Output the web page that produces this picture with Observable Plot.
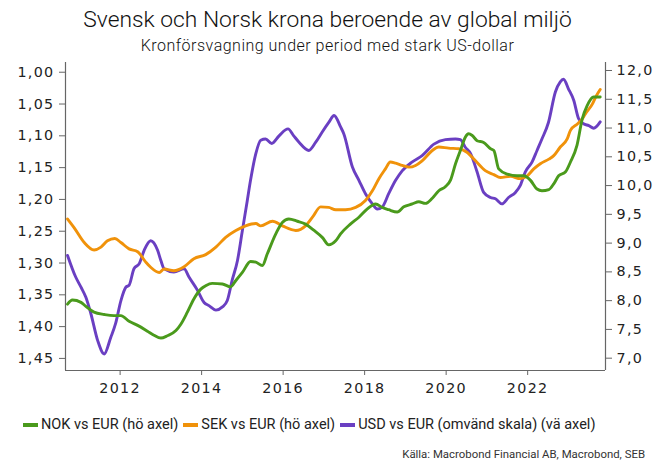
<!DOCTYPE html>
<html>
<head>
<meta charset="utf-8">
<script src="https://cdn.jsdelivr.net/npm/d3@7"></script>
<script src="https://cdn.jsdelivr.net/npm/@observablehq/plot@0.6"></script>
<style>
  html, body { margin: 0; padding: 0; background: #fff; }
  body { width: 655px; height: 461px; position: relative; overflow: hidden; font-family: "Roboto", "Liberation Sans", sans-serif; color: #222; }
  #title { position: absolute; top: 7px; left: 0; width: 655px; text-align: center; font-size: 22.8px; line-height: 26px; font-weight: 300; color: #111; }
  #subtitle { position: absolute; top: 37px; left: 0; width: 655px; text-align: center; font-size: 16px; line-height: 18px; letter-spacing: 0.5px; font-weight: 300; color: #111; }
  #chart { position: absolute; top: 50px; left: 0; }
  #legend { position: absolute; top: 416px; left: 23px; display: flex; align-items: center; font-size: 14.5px; white-space: nowrap; }
  #legend .item { display: flex; align-items: center; margin-right: 5px; }
  #legend .sw { display: inline-block; width: 15px; height: 4px; margin-right: 3px; }
  #caption { position: absolute; top: 447px; right: 10px; font-size: 11.4px; color: #333; }
</style>
</head>
<body>
<div id="title">Svensk och Norsk krona beroende av global miljö</div>
<div id="subtitle">Kronförsvagning under period med stark US-dollar</div>
<div id="chart"></div>
<div id="legend"></div>
<div id="caption">Källa: Macrobond Financial AB, Macrobond, SEB</div>
<script>
// Series: [decimal year, value]
const nok = [[2010.71,7.94],[2010.83,8.01],[2011.04,7.97],[2011.16,7.90],[2011.36,7.80],[2011.61,7.76],[2011.85,7.74],[2012.02,7.74],[2012.22,7.64],[2012.43,7.57],[2012.67,7.47],[2012.83,7.40],[2013.00,7.35],[2013.16,7.39],[2013.37,7.48],[2013.49,7.59],[2013.65,7.80],[2013.81,8.03],[2013.98,8.20],[2014.10,8.26],[2014.26,8.30],[2014.51,8.29],[2014.71,8.24],[2014.84,8.35],[2015.00,8.49],[2015.20,8.68],[2015.33,8.67],[2015.49,8.61],[2015.61,8.81],[2015.82,9.16],[2015.98,9.36],[2016.14,9.42],[2016.35,9.38],[2016.55,9.33],[2016.76,9.22],[2016.96,9.10],[2017.12,8.97],[2017.29,9.04],[2017.41,9.16],[2017.65,9.33],[2017.86,9.45],[2018.06,9.59],[2018.27,9.68],[2018.43,9.62],[2018.59,9.58],[2018.80,9.54],[2018.96,9.63],[2019.17,9.68],[2019.33,9.72],[2019.49,9.69],[2019.66,9.78],[2019.82,9.91],[2019.98,9.98],[2020.11,10.10],[2020.23,10.38],[2020.35,10.61],[2020.47,10.84],[2020.55,10.90],[2020.64,10.87],[2020.76,10.78],[2020.92,10.75],[2021.09,10.64],[2021.17,10.61],[2021.29,10.29],[2021.50,10.20],[2021.74,10.17],[2021.90,10.17],[2022.07,10.09],[2022.23,9.94],[2022.35,9.91],[2022.52,9.93],[2022.64,10.03],[2022.76,10.17],[2022.93,10.24],[2023.05,10.41],[2023.21,10.70],[2023.34,11.16],[2023.46,11.39],[2023.62,11.54],[2023.78,11.54]];
const sek = [[2010.71,9.42],[2010.87,9.27],[2011.12,9.01],[2011.36,8.88],[2011.53,8.93],[2011.69,9.04],[2011.87,9.08],[2012.02,9.01],[2012.22,8.90],[2012.43,8.85],[2012.63,8.67],[2012.75,8.58],[2012.96,8.49],[2013.08,8.55],[2013.32,8.52],[2013.57,8.59],[2013.81,8.73],[2014.10,8.80],[2014.35,8.93],[2014.59,9.10],[2014.84,9.22],[2015.08,9.30],[2015.33,9.34],[2015.45,9.30],[2015.74,9.38],[2015.98,9.30],[2016.31,9.22],[2016.55,9.30],[2016.72,9.45],[2016.92,9.63],[2017.12,9.62],[2017.29,9.58],[2017.53,9.58],[2017.78,9.62],[2018.02,9.74],[2018.19,9.91],[2018.35,10.12],[2018.51,10.29],[2018.63,10.41],[2018.76,10.39],[2018.92,10.35],[2019.09,10.32],[2019.25,10.35],[2019.41,10.43],[2019.66,10.61],[2019.82,10.67],[2020.06,10.65],[2020.31,10.64],[2020.51,10.58],[2020.72,10.43],[2020.96,10.26],[2021.17,10.19],[2021.33,10.14],[2021.58,10.16],[2021.82,10.12],[2021.99,10.17],[2022.15,10.29],[2022.31,10.38],[2022.52,10.46],[2022.64,10.52],[2022.80,10.67],[2022.97,10.81],[2023.05,10.96],[2023.22,11.07],[2023.34,11.16],[2023.42,11.25],[2023.59,11.42],[2023.67,11.54],[2023.78,11.67]];
const usd = [[2010.71,1.288],[2010.91,1.322],[2011.04,1.338],[2011.16,1.354],[2011.28,1.379],[2011.45,1.422],[2011.61,1.443],[2011.77,1.417],[2011.89,1.395],[2012.02,1.359],[2012.14,1.338],[2012.22,1.335],[2012.34,1.309],[2012.47,1.301],[2012.59,1.280],[2012.75,1.265],[2012.92,1.280],[2013.00,1.296],[2013.08,1.309],[2013.32,1.314],[2013.57,1.309],[2013.69,1.322],[2013.90,1.343],[2014.06,1.362],[2014.18,1.367],[2014.35,1.374],[2014.51,1.369],[2014.63,1.359],[2014.75,1.327],[2014.88,1.296],[2015.00,1.249],[2015.12,1.202],[2015.20,1.170],[2015.33,1.128],[2015.45,1.107],[2015.57,1.105],[2015.72,1.112],[2015.90,1.100],[2016.12,1.089],[2016.26,1.100],[2016.39,1.110],[2016.63,1.123],[2016.80,1.110],[2016.96,1.094],[2017.12,1.079],[2017.25,1.068],[2017.41,1.086],[2017.49,1.097],[2017.70,1.149],[2017.86,1.170],[2018.02,1.191],[2018.19,1.207],[2018.31,1.215],[2018.43,1.212],[2018.59,1.191],[2018.76,1.170],[2018.92,1.155],[2019.17,1.141],[2019.41,1.131],[2019.70,1.113],[2019.98,1.106],[2020.23,1.105],[2020.35,1.106],[2020.47,1.118],[2020.60,1.128],[2020.76,1.157],[2020.92,1.189],[2021.09,1.197],[2021.21,1.199],[2021.37,1.207],[2021.53,1.197],[2021.70,1.189],[2021.82,1.178],[2021.94,1.157],[2022.11,1.141],[2022.23,1.123],[2022.35,1.105],[2022.51,1.079],[2022.68,1.031],[2022.80,1.015],[2022.88,1.011],[2023.00,1.026],[2023.13,1.044],[2023.25,1.073],[2023.37,1.081],[2023.50,1.084],[2023.62,1.088],[2023.78,1.078]];

const seriesNames = ["NOK vs EUR (hö axel)", "SEK vs EUR (hö axel)", "USD vs EUR (omvänd skala) (vä axel)"];
const seriesColors = ["#4a9a1c", "#f0920a", "#6a3fc2"];
const xTicks = [2012, 2014, 2016, 2018, 2020, 2022];
const rightTicks = [7.0, 7.5, 8.0, 8.5, 9.0, 9.5, 10.0, 10.5, 11.0, 11.5, 12.0];
const leftTicks = [1.00, 1.05, 1.10, 1.15, 1.20, 1.25, 1.30, 1.35, 1.40, 1.45];
const xDomain = [2010.66, 2023.91];
const rightDomain = [6.786, 12.139];
const leftDomain = [1.469, 0.9847]; // reversed scale, bottom to top

// map left-axis (USD) values into right-axis units
const toRight = d3.scaleLinear().domain(leftDomain).range(rightDomain);
const comma = (v, n) => v.toFixed(n).replace(".", ",");

const plot = Plot.plot({
  width: 655,
  height: 350,
  marginTop: 12,
  marginBottom: 30,
  marginLeft: 65,
  marginRight: 50,
  style: { fontFamily: "'DejaVu Sans', sans-serif", fontSize: "14.3px", letterSpacing: "1.3px", color: "#222", background: "transparent" },
  x: { domain: xDomain, label: null },
  y: { domain: rightDomain, label: null },
  marks: [
    Plot.ruleY([rightDomain[0]], { stroke: "#666", strokeWidth: 1.2 }),
    Plot.ruleX([xDomain[0]], { stroke: "#666", strokeWidth: 1.2 }),
    Plot.ruleX([xDomain[1]], { stroke: "#666", strokeWidth: 1.2 }),
    Plot.axisX(xTicks, { anchor: "bottom", tickFormat: d => String(d), tickSize: 5, tickPadding: 7, stroke: "#666", label: null }),
    Plot.axisY(rightTicks, { anchor: "right", tickFormat: d => comma(d, 1), tickSize: 6, tickPadding: 5, stroke: "#666", label: null }),
    Plot.axisY(leftTicks.map(v => toRight(v)), { anchor: "left", tickFormat: d => comma(toRight.invert(d), 2), tickSize: 6, tickPadding: 5, stroke: "#666", label: null }),
    Plot.line(usd, { x: d => d[0], y: d => toRight(d[1]), stroke: seriesColors[2], strokeWidth: 2.9, curve: "monotone-x" }),
    Plot.line(sek, { x: d => d[0], y: d => d[1], stroke: seriesColors[1], strokeWidth: 2.9, curve: "monotone-x" }),
    Plot.line(nok, { x: d => d[0], y: d => d[1], stroke: seriesColors[0], strokeWidth: 2.9, curve: "monotone-x" })
  ]
});
document.getElementById("chart").appendChild(plot);

const legend = document.getElementById("legend");
seriesNames.forEach((name, i) => {
  const item = document.createElement("span");
  item.className = "item";
  const sw = document.createElement("span");
  sw.className = "sw";
  sw.style.background = seriesColors[i];
  item.appendChild(sw);
  item.appendChild(document.createTextNode(name));
  legend.appendChild(item);
});
</script>
</body>
</html>
